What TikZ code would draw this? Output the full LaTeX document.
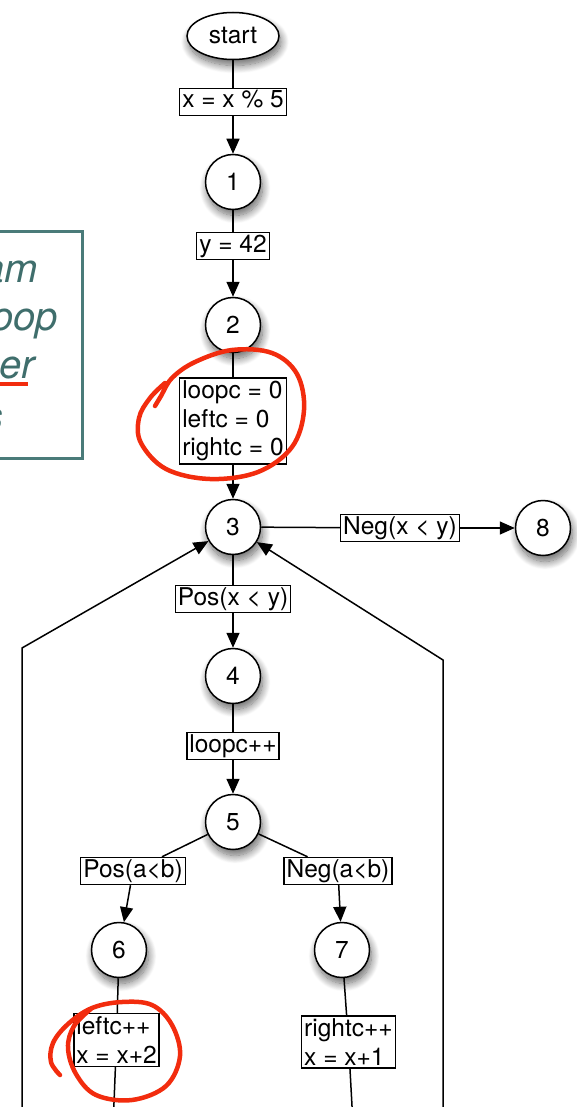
\documentclass[tikz,border=0pt]{standalone}
\usepackage{fontspec}
\setmainfont{TeX Gyre Heros}
\usetikzlibrary{arrows.meta,shapes.geometric,shadows.blur}
\definecolor{tealbox}{HTML}{4A7B79}
\definecolor{tealtxt}{HTML}{3F6E6C}
\definecolor{annot}{HTML}{F22C0E}
\begin{document}
\begin{tikzpicture}[x=1pt,y=-1pt,
  every node/.style={font=\fontsize{24.5}{28.5}\selectfont},
  soft/.style={blur shadow={shadow xshift=2pt, shadow yshift=-6pt, shadow blur radius=8pt, shadow blur steps=14, shadow opacity=60}},
  state/.style={circle, draw, line width=1.5pt, fill=white, minimum size=55pt, inner sep=0pt, soft},
  startnode/.style={ellipse, draw, line width=1.5pt, fill=white, minimum width=92pt, minimum height=47pt, inner sep=0pt, soft},
  lbl/.style={rectangle, draw, fill=white, line width=1.4pt, inner xsep=2.5pt, inner ysep=2pt, text height=17.5pt, text depth=5.5pt},
  mlbl/.style={rectangle, draw, fill=white, line width=1.4pt, inner xsep=2.5pt, inner ysep=3pt, align=left},
  conn/.style={line width=1.5pt},
  arr/.style={conn, -{Triangle[length=15pt,width=13pt]}},
  note/.style={inner sep=0pt, anchor=base east, text=tealtxt, font=\fontsize{40}{48}\selectfont\itshape},
  annotline/.style={draw=annot, line width=4.5pt, line cap=round, line join=round}
]
\useasboundingbox (0,0) rectangle (577,1107);
\clip (0,0) rectangle (577,1107);

% partially visible teal note box
\draw[tealbox, line width=3pt] (-10,232) rectangle (82,458);
\node[note] (n1) at (38,282) {am};
\node[note] (n2) at (58,330) {oop};
\node[note] (n3) at (35,378) {er};
\node[note] (n4) at (4,430) {s};
\draw[annotline, line width=4pt, line cap=butt] (0,384) -- (28,384);

% nodes
\node[startnode] (start) at (233,36) {start};
\node[lbl] (b0) at (233,102) {x = x \% 5};
\node[state] (c1) at (233,182) {1};
\node[lbl] (b1) at (233,246) {y = 42};
\node[state] (c2) at (233,325) {2};
\node[mlbl] (b2) at (233,421) {loopc = 0\\leftc = 0\\rightc = 0};
\node[state] (c3) at (233,527) {3};
\node[lbl] (b3) at (400,528) {Neg(x < y)};
\node[state] (c8) at (543,528) {8};
\node[lbl] (b4) at (233,599) {Pos(x < y)};
\node[state] (c4) at (233,676) {4};
\node[lbl] (b5) at (233,746) {loopc++};
\node[state] (c5) at (233,822) {5};
\node[lbl] (b6) at (133,871) {Pos(a<b)};
\node[lbl] (b7) at (338,871) {Neg(a<b)};
\node[state] (c6) at (119,950) {6};
\node[state] (c7) at (342,950) {7};
\node[mlbl] (b8) at (116.5,1040) {leftc++\\x = x+2};
\node[mlbl] (b9) at (348.5,1042) {rightc++\\x = x+1};

\coordinate (e6) at (113.5,1115);
\coordinate (e7) at (352.5,1115);
\coordinate (l1) at (22,1115);
\coordinate (l2) at (22,648);
\coordinate (r1) at (443,1115);
\coordinate (r2) at (443,660);

% connectors
\draw[conn] (start) -- (b0);
\draw[arr] (b0) -- (c1);
\draw[conn] (c1) -- (b1);
\draw[arr] (b1) -- (c2);
\draw[conn] (c2) -- (b2);
\draw[arr] (b2) -- (c3);
\draw[conn] (c3) -- (b3);
\draw[arr] (b3) -- (c8);
\draw[conn] (c3) -- (b4);
\draw[arr] (b4) -- (c4);
\draw[conn] (c4) -- (b5);
\draw[arr] (b5) -- (c5);
\draw[conn] (c5) -- (b6);
\draw[arr] (b6) -- (c6);
\draw[conn] (c5) -- (b7);
\draw[arr] (b7) -- (c7);
\draw[conn] (c6) -- (b8);
\draw[conn] (b8) -- (e6);
\draw[conn] (c7) -- (b9);
\draw[conn] (b9) -- (e7);
\draw[arr] (l1) -- (l2) -- (c3);
\draw[arr] (r1) -- (r2) -- (c3);

% hand-drawn red annotations
\draw[annotline] plot[smooth, tension=0.6] coordinates {
  (155,406) (161,396) (172,378) (195,362) (232,350) (272,353) (297,374)
  (304,410) (292,447) (258,472) (210,479) (166,469) (141,443) (139,418) (150,398) (165,383)};
\draw[annotline] plot[smooth, tension=0.6] coordinates {
  (60,1075) (51,1062) (53,1043) (68,1024) (92,1008) (122,1002) (152,1005) (172,1025)
  (180,1056) (166,1086) (132,1100) (96,1095) (76,1074) (68,1048) (74,1026) (92,1008)};
\end{tikzpicture}
\end{document}
